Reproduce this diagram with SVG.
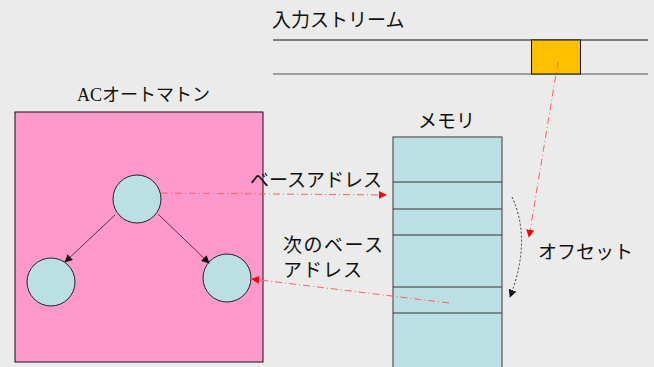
<svg xmlns="http://www.w3.org/2000/svg" width="654" height="367" viewBox="0 0 654 367">
<defs>
<style>
.lbl{font-family:"Noto Sans CJK JP","Liberation Sans",sans-serif;font-size:19px;fill:#111}
.node{fill:#bbe0e3;stroke:#222;stroke-width:1}
.red{stroke:#ff6060;stroke-width:1;fill:none;stroke-dasharray:7 3 1 3}
.blk{stroke:#222;stroke-width:0.8;fill:none}
.dot{stroke:#333;stroke-width:1;fill:none;stroke-dasharray:2 2}
.cell{stroke:#333;stroke-width:1}
</style>
<marker id="ar" viewBox="0 0 10 10" refX="9" refY="5" markerWidth="8" markerHeight="8" orient="auto" markerUnits="userSpaceOnUse"><path d="M0,0 L10,5 L0,10 Z" fill="#ff0000"/></marker>
<marker id="ab" viewBox="0 0 10 10" refX="9" refY="5" markerWidth="8" markerHeight="8" orient="auto" markerUnits="userSpaceOnUse"><path d="M0,0 L10,5 L0,10 Z" fill="#111"/></marker>
</defs>
<rect width="654" height="367" fill="#ebebeb"/>
<g id="stream">
<text class="lbl" x="272" y="27">入力ストリーム</text>
<line x1="273" y1="40" x2="648" y2="40" stroke="#111" stroke-width="1"/>
<line x1="273" y1="74" x2="648" y2="74" stroke="#555" stroke-width="1.2"/>
<rect x="531.5" y="40" width="49" height="34" fill="#ffc000" stroke="#111" stroke-width="1"/>
</g>
<g id="automaton">
<text x="77" y="101" font-size="18" fill="#111"><tspan font-family="Liberation Serif,serif">AC</tspan><tspan font-family="Noto Sans CJK JP,sans-serif">オートマトン</tspan></text>
<rect x="15" y="112" width="248" height="250" fill="#ff99cc" stroke="#111" stroke-width="1"/>
</g>
<g id="node-root"><circle class="node" cx="137" cy="199" r="24"/></g>
<g id="node-left"><circle class="node" cx="51" cy="282" r="24"/></g>
<g id="node-right"><circle class="node" cx="227" cy="278" r="24"/></g>
<g id="memory">
<text class="lbl" x="418" y="128" font-size="17">メモリ</text>
<rect x="393" y="137" width="109" height="235" fill="#bbe0e3" stroke="#555" stroke-width="1.2"/>
<line class="cell" x1="393" y1="182" x2="502" y2="182"/>
<line class="cell" x1="393" y1="209" x2="502" y2="209"/>
<line class="cell" x1="393" y1="235" x2="502" y2="235"/>
<line class="cell" x1="393" y1="287" x2="502" y2="287"/>
<line class="cell" x1="393" y1="313" x2="502" y2="313" stroke="#111"/>
</g>
<g id="connectors">
<line class="blk" x1="115" y1="215" x2="65" y2="262" marker-end="url(#ab)"/>
<line class="blk" x1="158" y1="214" x2="209" y2="263" marker-end="url(#ab)"/>
<line class="red" x1="161" y1="193" x2="386" y2="195" marker-end="url(#ar)"/>
<line class="red" x1="449" y1="303" x2="252" y2="279" marker-end="url(#ar)"/>
<line class="red" x1="558" y1="62" x2="529" y2="237" marker-end="url(#ar)"/>
<path class="dot" d="M512,197 Q532,240 510,297" marker-end="url(#ab)"/>
</g>
<g id="labels">
<text class="lbl" x="250" y="187" font-size="19.5">ベースアドレス</text>
<text class="lbl" x="283" y="252" font-size="18" letter-spacing="1.5">次のベース</text>
<text class="lbl" x="283" y="277" font-size="18" letter-spacing="1">アドレス</text>
<text class="lbl" x="538" y="259" font-size="18.5">オフセット</text>
</g>
</svg>
